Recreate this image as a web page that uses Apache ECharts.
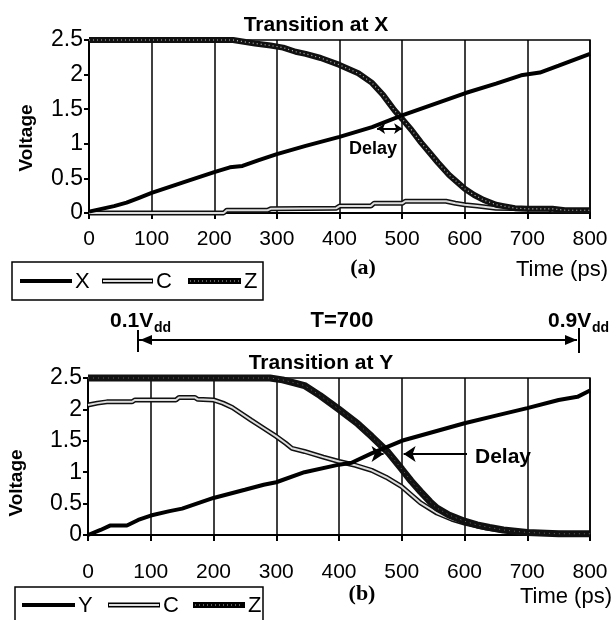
<!DOCTYPE html>
<html>
<head>
<meta charset="utf-8">
<script src="https://cdn.jsdelivr.net/npm/echarts@6/dist/echarts.min.js"></script>
<style>
html, body { margin: 0; padding: 0; background: #fff; }
#main { width: 612px; height: 620px; }
</style>
</head>
<body>
<div id="main"></div>
<script>
// 数据: [时间(ps), 电压(V)]
// (a) Transition at X
const xWaveA = [[0,0.02],[20,0.06],[40,0.1],[60,0.15],[80,0.22],[100,0.29],[130,0.38],[160,0.47],[200,0.59],[225,0.66],[245,0.68],[270,0.76],[300,0.85],[346,0.97],[400,1.1],[452,1.24],[500,1.41],[550,1.57],[600,1.73],[650,1.87],[690,1.99],[720,2.03],[750,2.13],[800,2.3]];
const cWaveA = [[0,0],[215,0],[220,0.04],[285,0.04],[290,0.06],[395,0.07],[400,0.1],[450,0.1],[455,0.14],[500,0.14],[505,0.17],[570,0.17],[585,0.14],[600,0.12],[620,0.1],[650,0.07],[700,0.06],[735,0.06],[740,0.03],[800,0.03]];
const zWaveA = [[0,2.5],[100,2.5],[200,2.5],[230,2.5],[250,2.47],[265,2.45],[290,2.42],[310,2.39],[330,2.33],[346,2.3],[370,2.24],[400,2.14],[430,2.02],[452,1.88],[470,1.7],[488,1.48],[500,1.36],[515,1.2],[530,1.02],[545,0.86],[557,0.73],[575,0.55],[600,0.35],[615,0.26],[630,0.19],[650,0.12],[662,0.1],[680,0.07],[700,0.06],[740,0.06],[760,0.04],[800,0.04]];
// (b) Transition at Y
const yWaveB = [[0,0],[20,0.08],[35,0.15],[62,0.15],[80,0.24],[100,0.31],[130,0.38],[150,0.42],[200,0.59],[250,0.72],[280,0.8],[300,0.84],[345,1.0],[400,1.12],[420,1.15],[452,1.3],[500,1.5],[550,1.64],[600,1.78],[650,1.9],[700,2.02],[750,2.15],[780,2.2],[800,2.3]];
const cWaveB = [[0,2.07],[15,2.1],[30,2.12],[70,2.12],[75,2.15],[140,2.15],[145,2.19],[170,2.19],[175,2.16],[200,2.15],[215,2.1],[230,2.03],[260,1.83],[280,1.7],[300,1.57],[315,1.46],[325,1.38],[345,1.33],[375,1.24],[400,1.17],[426,1.11],[452,1.03],[475,0.92],[500,0.77],[515,0.64],[530,0.51],[556,0.35],[580,0.25],[600,0.19],[635,0.11],[662,0.07],[700,0.03],[800,0.02]];
const zWaveB = [[0,2.5],[100,2.5],[200,2.5],[290,2.5],[310,2.47],[330,2.42],[345,2.38],[370,2.22],[400,2.0],[430,1.77],[452,1.57],[478,1.32],[500,1.05],[515,0.86],[530,0.69],[545,0.53],[556,0.43],[575,0.32],[600,0.22],[620,0.16],[640,0.12],[662,0.08],[700,0.04],[750,0.02],[800,0.02]];

const timeRange = [0, 800, 100];
const voltRange = [0, 2.5, 0.5];
const legendA = ["X", "C", "Z"];
const legendB = ["Y", "C", "Z"];

const FONT = "Liberation Sans, Arial, sans-serif";

function timeAxis(gridIndex, margin) {
  return {
    type: "value", gridIndex: gridIndex,
    min: timeRange[0], max: timeRange[1], interval: timeRange[2],
    axisLine: { show: true, onZero: false, lineStyle: { color: "#000", width: 2 } },
    axisTick: { show: true, length: 6, lineStyle: { color: "#000", width: 2 } },
    axisLabel: { color: "#000", fontSize: 21, fontFamily: FONT, margin: margin },
    splitLine: { show: true, lineStyle: { color: "#000", width: 1.5 } }
  };
}

function voltAxis(gridIndex) {
  return {
    type: "value", gridIndex: gridIndex,
    min: voltRange[0], max: voltRange[1], interval: voltRange[2],
    axisLine: { show: true, lineStyle: { color: "#000", width: 2 } },
    axisTick: { show: true, length: 5, lineStyle: { color: "#000", width: 2 } },
    axisLabel: { color: "#000", fontSize: 23, fontFamily: FONT, margin: 6 },
    splitLine: { show: false }
  };
}

// 普通实线 (X / Y)
function solidLine(name, data, idx, mark) {
  return {
    name: name, type: "line", xAxisIndex: idx, yAxisIndex: idx, data: data,
    showSymbol: false, clip: false, z: 5,
    lineStyle: { color: "#000", width: 4 },
    markLine: mark
  };
}

// 双线 (C: 空心线, Z: 粗线中间带点)
function doubleLine(name, data, idx, outerW, innerW, innerColor, innerType, z) {
  return [
    {
      name: name, type: "line", xAxisIndex: idx, yAxisIndex: idx, data: data,
      showSymbol: false, clip: false, z: z,
      lineStyle: { color: "#111", width: outerW }
    },
    {
      name: name, type: "line", xAxisIndex: idx, yAxisIndex: idx, data: data,
      showSymbol: false, clip: false, z: z + 0.1,
      lineStyle: { color: innerColor, width: innerW, type: innerType }
    }
  ];
}

function arrowMark(from, to, symbols, size) {
  return {
    silent: true, animation: false,
    symbol: symbols, symbolSize: size,
    label: { show: false },
    lineStyle: { color: "#000", width: 2, type: "solid" },
    data: [[{ coord: from }, { coord: to }]]
  };
}

function txt(x, y, text, font, align, extra) {
  return Object.assign({
    type: "text", x: x, y: y, z: 100,
    style: { text: text, font: font, fill: "#000", align: align || "center", verticalAlign: "middle" }
  }, extra || {});
}

function hline(x1, x2, y, w) {
  return { type: "line", z: 100, shape: { x1: x1, y1: y, x2: x2, y2: y }, style: { stroke: "#000", lineWidth: w } };
}
function vline(x, y1, y2, w) {
  return { type: "line", z: 100, shape: { x1: x, y1: y1, x2: x, y2: y2 }, style: { stroke: "#000", lineWidth: w } };
}
function head(tipX, y, dir, len, half) {
  return { type: "polygon", z: 100, shape: { points: [[tipX, y], [tipX - dir * len, y - half], [tipX - dir * len, y + half]] }, style: { fill: "#000" } };
}

// 图例 (绘制成框)
function legendBox(x, y, w, h, midY, items, labels) {
  const els = [{ type: "rect", z: 100, shape: { x: x, y: y, width: w, height: h }, style: { fill: "#fff", stroke: "#000", lineWidth: 1.5 } }];
  items.forEach(function (it, i) {
    if (it.kind === "solid") {
      els.push(hline(it.x1, it.x2, midY, 4));
    } else if (it.kind === "hollow") {
      els.push(hline(it.x1, it.x2, midY, 5));
      els.push({ type: "line", z: 101, shape: { x1: it.x1 + 1, y1: midY, x2: it.x2 - 1, y2: midY }, style: { stroke: "#ddd", lineWidth: 2 } });
    } else {
      els.push(hline(it.x1, it.x2, midY, 6));
      els.push({ type: "line", z: 101, shape: { x1: it.x1 + 2, y1: midY, x2: it.x2 - 2, y2: midY }, style: { stroke: "#bbb", lineWidth: 1.2, lineDash: [1, 3] } });
    }
    els.push(txt(it.x2 + 3, midY + 1, labels[i], "22px " + FONT, "left"));
  });
  return els;
}

const graphics = [].concat(
  // (a)
  txt(316, 25, "Transition at X", "bold 21px " + FONT),
  txt(27, 138, "Voltage", "bold 19px " + FONT, "center", { rotation: Math.PI / 2 }),
  txt(373, 149, "Delay", "bold 18px " + FONT),
  txt(363, 268, "(a)", "bold 22px Liberation Serif, Times New Roman, serif"),
  txt(608, 270, "Time (ps)", "22px " + FONT, "right"),
  legendBox(12, 262, 251, 38, 281, [
    { kind: "solid", x1: 20, x2: 72 },
    { kind: "hollow", x1: 102, x2: 153 },
    { kind: "dots", x1: 188, x2: 241 }
  ], legendA),
  // T=700 标注
  txt(110, 321, "0.1V", "bold 21px " + FONT, "left"),
  txt(154, 328, "dd", "bold 14px " + FONT, "left"),
  txt(548, 321, "0.9V", "bold 21px " + FONT, "left"),
  txt(592, 328, "dd", "bold 14px " + FONT, "left"),
  txt(342, 321, "T=700", "bold 22px " + FONT),
  hline(139, 577, 340, 2),
  vline(138, 330, 352, 2),
  vline(579, 328, 353, 2),
  head(140, 340, -1, 12, 5),
  head(577, 340, 1, 12, 5),
  // (b)
  txt(321, 363, "Transition at Y", "bold 21px " + FONT),
  txt(17, 483, "Voltage", "bold 19px " + FONT, "center", { rotation: Math.PI / 2 }),
  txt(503, 457, "Delay", "bold 21px " + FONT),
  txt(362, 594, "(b)", "bold 22px Liberation Serif, Times New Roman, serif"),
  txt(612, 597, "Time (ps)", "22px " + FONT, "right"),
  legendBox(15, 587, 248, 40, 605, [
    { kind: "solid", x1: 22, x2: 75 },
    { kind: "hollow", x1: 108, x2: 160 },
    { kind: "dots", x1: 193, x2: 245 }
  ], legendB)
);

const option = {
  animation: false,
  backgroundColor: "#fff",
  grid: [
    { left: 89, top: 40, width: 501, height: 173, show: true, borderColor: "#000", borderWidth: 1.5, backgroundColor: "transparent" },
    { left: 88, top: 378, width: 502, height: 157, show: true, borderColor: "#000", borderWidth: 1.5, backgroundColor: "transparent" }
  ],
  xAxis: [timeAxis(0, 16), timeAxis(1, 27)],
  yAxis: [voltAxis(0), voltAxis(1)],
  series: [].concat(
    doubleLine("C", cWaveA, 0, 5, 2, "#ddd", "solid", 2),
    doubleLine("Z", zWaveA, 0, 6, 1.2, "#bbb", [1, 3], 3),
    solidLine("X", xWaveA, 0, arrowMark([460, 1.22], [500, 1.22], ["arrow", "arrow"], 8)),
    doubleLine("C", cWaveB, 1, 5, 2, "#ddd", "solid", 2),
    doubleLine("Z", zWaveB, 1, 7, 1, "#666", [1, 4], 3),
    solidLine("Y", yWaveB, 1, {
      silent: true, animation: false, symbol: ["none", "arrow"], symbolSize: 12,
      label: { show: false }, lineStyle: { color: "#000", width: 2, type: "solid" },
      data: [
        [{ coord: [604, 1.29] }, { coord: [503, 1.29] }],
        [{ coord: [458, 1.29] }, { coord: [471, 1.29] }]
      ]
    })
  ),
  graphic: graphics
};

const chart = echarts.init(document.getElementById("main"));
chart.setOption(option);
</script>
</body>
</html>
